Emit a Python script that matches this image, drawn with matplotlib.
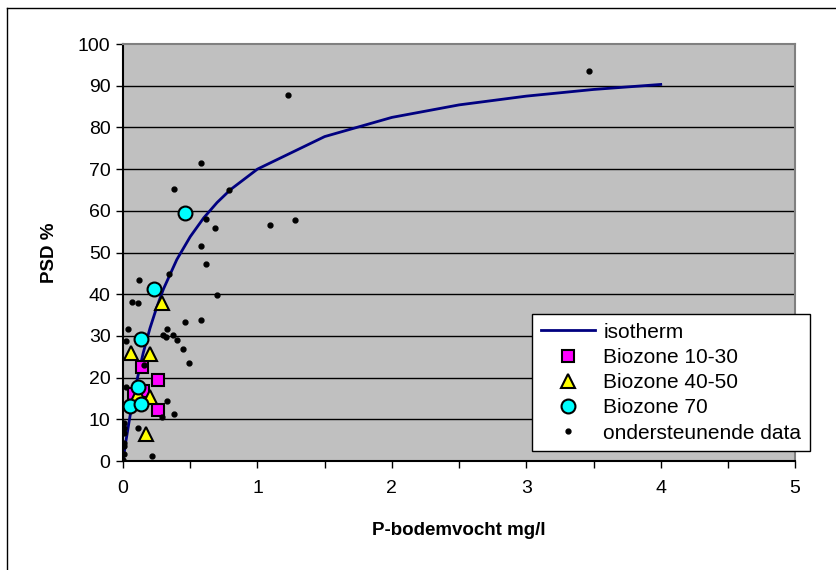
import matplotlib
matplotlib.use("Agg")
import matplotlib.pyplot as plt
from matplotlib.ticker import MultipleLocator

plt.rcParams['font.family'] = ['Liberation Sans', 'DejaVu Sans']

# isotherm
iso_x = [0, 0.01, 0.02, 0.05, 0.1, 0.15, 0.2, 0.25, 0.3, 0.4, 0.5, 0.6, 0.7, 0.8,
         1.0, 1.5, 2.0, 2.5, 3.0, 3.5, 4.0]
iso_y = [0, 2.3, 4.5, 10.4, 18.9, 25.9, 31.8, 36.8, 41.2, 48.3, 53.8, 58.3, 62.0, 65.1,
         70.0, 77.8, 82.4, 85.4, 87.5, 89.1, 90.3]

# Biozone 10-30
bz1_x = [0.144, 0.258, 0.258, 0.08, 0.15]
bz1_y = [22.5, 19.5, 12.2, 16.0, 16.8]

# Biozone 40-50
bz2_x = [0.288, 0.06, 0.20, 0.20, 0.171, 0.11]
bz2_y = [37.8, 25.8, 25.6, 15.4, 6.5, 16.0]

# Biozone 70
bz3_x = [0.464, 0.233, 0.131, 0.109, 0.052, 0.134]
bz3_y = [59.5, 41.2, 29.3, 17.8, 13.3, 13.6]

# ondersteunende data
sd_x = [3.467, 1.228, 0.583, 0.382, 0.791, 0.615, 0.687, 1.096, 1.277, 0.580, 0.620,
        0.340, 0.702, 0.464, 0.583, 0.330, 0.119, 0.065, 0.109, 0.035, 0.295, 0.318,
        0.374, 0.022, 0.400, 0.449, 0.491, 0.154, 0.022, 0.330, 0.382, 0.288, 0.109,
        0.213, 0.010, 0.008, 0.006, 0.005, 0.010, 0.008, 0.003]
sd_y = [93.5, 87.8, 71.5, 65.2, 65.0, 58.0, 55.9, 56.7, 57.9, 51.6, 47.2,
        44.8, 39.8, 33.3, 33.8, 31.7, 43.4, 38.1, 37.8, 31.7, 30.1, 29.8,
        30.3, 28.8, 28.9, 26.9, 23.4, 23.0, 17.8, 14.5, 11.3, 10.6, 8.0,
        1.3, 9.0, 7.8, 6.8, 4.4, 3.6, 1.8, 0.2]

fig = plt.figure(figsize=(8.37, 5.70), dpi=100)
# outer chart border (left and top visible)
fig.add_artist(plt.Line2D([0.0084, 0.0084], [0, 0.986], color='black', lw=1.0))
fig.add_artist(plt.Line2D([0.0084, 1.0], [0.986, 0.986], color='black', lw=1.0))

ax = fig.add_axes([0.147, 0.1912, 0.803, 0.7316])
ax.set_facecolor('#c0c0c0')

for yy in range(10, 100, 10):
    ax.axhline(yy, color='black', lw=1.0, zorder=1)

ax.plot(iso_x, iso_y, color='#000080', lw=2, zorder=2, label='isotherm')
ax.plot(bz1_x, bz1_y, ls='none', marker='s', ms=9, mfc='#ff00ff', mec='black',
        mew=1.5, zorder=3, label='Biozone 10-30')
ax.plot(bz2_x, bz2_y, ls='none', marker='^', ms=10, mfc='#ffff00', mec='black',
        mew=1.5, zorder=3, label='Biozone 40-50')
ax.plot(bz3_x, bz3_y, ls='none', marker='o', ms=10, mfc='#00ffff', mec='black',
        mew=1.5, zorder=4, label='Biozone 70')
ax.plot(sd_x, sd_y, ls='none', marker='o', ms=3.5, mfc='black', mec='black',
        zorder=5, label='ondersteunende data')

ax.set_xlim(0, 5)
ax.set_ylim(0, 100)
ax.xaxis.set_major_locator(MultipleLocator(1))
ax.xaxis.set_minor_locator(MultipleLocator(0.5))
ax.yaxis.set_major_locator(MultipleLocator(10))
ax.tick_params(axis='both', which='both', direction='out', length=5, width=1,
               labelsize=14, color='black')
ax.tick_params(axis='x', pad=9)
ax.tick_params(axis='y', pad=4)

ax.spines['left'].set_color('black')
ax.spines['bottom'].set_color('black')
ax.spines['top'].set_color('#808080')
ax.spines['right'].set_color('#808080')
for s in ax.spines.values():
    s.set_linewidth(1.5)

ax.set_xlabel('P-bodemvocht mg/l', fontsize=13.5, fontweight='bold', labelpad=18)
ax.set_ylabel('PSD %', fontsize=13.5, fontweight='bold', labelpad=14)

leg = ax.legend(loc='lower left', bbox_to_anchor=(0.609, 0.024), fontsize=15,
                frameon=True, fancybox=False, edgecolor='black', framealpha=1,
                borderpad=0.4, labelspacing=0.3, handlelength=2.6,
                handletextpad=0.4, borderaxespad=0)
leg.get_frame().set_linewidth(1.0)
leg.set_zorder(10)

fig.savefig('out.png', dpi=100)
